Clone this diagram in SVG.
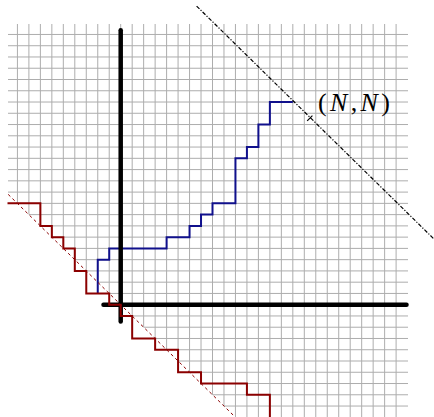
<svg xmlns="http://www.w3.org/2000/svg" width="434" height="417" viewBox="0 0 434 417">
<style>
.grid{fill:none;stroke:#adadad;stroke-width:1}
.axis{fill:none;stroke:#000;stroke-width:4.5;stroke-linecap:round}
.blue{fill:none;stroke:#10108c;stroke-width:2;stroke-linejoin:miter}
.red{fill:none;stroke:#8b0000;stroke-width:2;stroke-linejoin:miter}
.reddash{fill:none;stroke:#8b0000;stroke-width:1;stroke-dasharray:3 3}
.blackdash{fill:none;stroke:#000;stroke-width:1.2;stroke-dasharray:4 1.6 1.2 1.6}
.lbl{font-family:"Liberation Serif","Times New Roman",serif;font-size:26px;fill:#000}
</style>
<defs>
<clipPath id="gridclip">
<polygon points="8,194.1 8,24 408,24 408,417 235.1,417"/>
</clipPath>
</defs>
<rect width="434" height="417" fill="#fff"/>
<g id="grid" clip-path="url(#gridclip)">
<path class="grid" d="M17.425,24V417M28.9,24V417M40.375,24V417M51.85,24V417M63.325,24V417M74.8,24V417M86.275,24V417M97.75,24V417M109.225,24V417M120.7,24V417M132.175,24V417M143.65,24V417M155.125,24V417M166.6,24V417M178.075,24V417M189.55,24V417M201.025,24V417M212.5,24V417M223.975,24V417M235.45,24V417M246.925,24V417M258.4,24V417M269.875,24V417M281.35,24V417M292.825,24V417M304.3,24V417M315.775,24V417M327.25,24V417M338.725,24V417M350.2,24V417M361.675,24V417M373.15,24V417M384.625,24V417M396.1,24V417"/>
<path class="grid" d="M8,34.46H408M8,45.72H408M8,56.98H408M8,68.24H408M8,79.5H408M8,90.76H408M8,102.02H408M8,113.28H408M8,124.54H408M8,135.8H408M8,147.06H408M8,158.32H408M8,169.58H408M8,180.84H408M8,192.1H408M8,203.36H408M8,214.62H408M8,225.88H408M8,237.14H408M8,248.4H408M8,259.66H408M8,270.92H408M8,282.18H408M8,293.44H408M8,304.7H408M8,315.96H408M8,327.22H408M8,338.48H408M8,349.74H408M8,361H408M8,372.26H408M8,383.52H408M8,394.78H408M8,406.04H408"/>
</g>
<g id="connectors">
<path id="blue-path" class="blue" d="M97.75,293.44V259.66H109.225V248.4H166.6V237.14H189.55V225.88H201.025V214.62H212.5V203.36H235.45V158.32H246.925V147.06H258.4V124.54H269.875V102.02H292.825"/>
<g id="axes">
<line class="axis" x1="120.7" y1="30.3" x2="120.7" y2="321.6"/>
<line class="axis" x1="103.5" y1="304.7" x2="406.5" y2="304.7"/>
</g>
<line id="diag-low" class="reddash" x1="8.2" y1="194.4" x2="233.2" y2="415.1"/>
<path id="red-path" class="red" d="M7.5,203.36H40.375V225.88H51.85V237.14H63.325V248.4H74.8V270.92H86.275V293.44H109.225V304.7H120.7V315.96H132.175V338.48H155.125V349.74H178.075V372.26H201.025V383.52H246.925V394.78H269.875V420"/>
<line id="diag-high" class="blackdash" x1="196.6" y1="6.1" x2="441.7" y2="246.6"/>
<line id="tick" stroke="#000" stroke-width="1.2" x1="307.2" y1="120.9" x2="312.4" y2="115.6"/>
</g>
<g id="label">
<text class="lbl" x="318" y="111" textLength="72" lengthAdjust="spacing">(<tspan font-style="italic">N</tspan>,<tspan font-style="italic">N</tspan>)</text>
</g>
</svg>
